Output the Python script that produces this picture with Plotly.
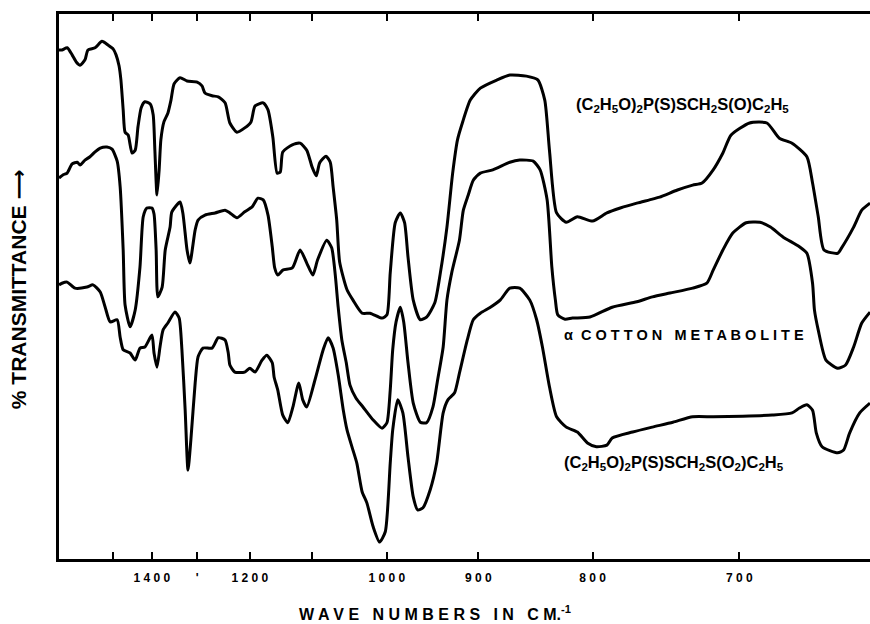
import plotly.graph_objects as go

# ---- data (wave numbers in cm^-1, transmittance in % of chart height) ----
sulfoxide_wn = [1663, 1653, 1636, 1620, 1607, 1595, 1580, 1571, 1550, 1530, 1513, 1499, 1491, 1483, 1478,
                1472, 1467, 1459, 1449, 1441, 1434, 1426, 1417, 1404, 1397, 1393, 1388, 1383, 1379, 1372,
                1363, 1356, 1349, 1336, 1321, 1300, 1290, 1284, 1270, 1258, 1245, 1236, 1223, 1209, 1198,
                1191, 1177, 1169, 1161, 1154, 1149, 1145, 1130, 1118, 1108, 1100, 1094, 1089, 1080, 1074,
                1070, 1065, 1061, 1051, 1043, 1031, 1021, 1006, 1000, 996, 990, 984, 979, 975, 969, 961,
                954, 945, 939, 932, 926, 921, 916, 908, 898, 882, 870, 855, 845, 839, 835, 829, 821, 812,
                800, 789, 779, 767, 758, 751, 739, 729, 723, 716, 710, 705, 694, 684, 677, 670, 662, 659,
                656, 653, 646, 644, 638, 634, 630]
sulfoxide_t = [93.4, 93.4, 93.8, 92.5, 91.2, 90.6, 91.6, 93.4, 93.8, 95.0, 94.3, 93.6, 92.5, 90.5, 87.9,
               82.4, 78.3, 77.8, 74.5, 75.0, 79.3, 82.8, 83.9, 83.5, 81.5, 75.0, 66.8, 71.4, 76.9, 80.2,
               81.8, 84.2, 87.2, 88.3, 87.7, 87.5, 86.8, 85.5, 85.0, 84.8, 83.7, 80.0, 78.3, 79.1, 80.2,
               83.1, 83.7, 82.4, 77.4, 70.8, 71.0, 74.7, 76.0, 76.3, 75.0, 71.9, 70.3, 72.7, 73.9, 72.8,
               68.3, 62.2, 54.5, 49.4, 47.5, 45.1, 45.1, 44.2, 44.8, 52.5, 61.7, 63.5, 61.7, 55.4, 47.5, 43.9,
               44.4, 47.0, 52.5, 60.9, 70.8, 76.9, 80.0, 84.2, 86.4, 87.9, 88.8, 88.6, 87.9, 84.2, 75.0, 63.5, 61.8, 62.8,
               62.0, 63.5, 64.4, 65.3, 65.9, 66.4, 67.7, 68.6, 69.0, 71.4, 74.5, 77.8, 80.0, 80.0, 77.2, 76.3, 73.8, 69.0,
               62.8, 56.7, 56.1, 57.1, 60.9, 64.0, 65.3]

metabolite_wn = [1663, 1649, 1636, 1620, 1604, 1595, 1580, 1565, 1550, 1535, 1516, 1502, 1488, 1480, 1472,
                 1467, 1454, 1441, 1429, 1421, 1412, 1400, 1395, 1390, 1386, 1376, 1369, 1358, 1354, 1336,
                 1330, 1321, 1315, 1304, 1298, 1284, 1264, 1245, 1236, 1223, 1209, 1196, 1186, 1177, 1169,
                 1162, 1158, 1153, 1145, 1130, 1118, 1108, 1099, 1092, 1079, 1072, 1067, 1063, 1058, 1052,
                 1047, 1039, 1030, 1017, 1006, 1000, 996, 993, 989, 984, 980, 975, 969, 961, 954, 947, 942,
                 936, 932, 927, 919, 915, 910, 905, 898, 886, 870, 861, 849, 843, 837, 833, 830, 828, 822,
                 816, 802, 785, 767, 756, 744, 729, 720, 716, 710, 704, 696, 688, 682, 675, 666, 662, 659,
                 658, 656, 652, 646, 642, 638, 634, 630]
metabolite_t = [69.9, 70.5, 70.8, 72.5, 72.8, 72.3, 73.2, 73.8, 74.7, 75.4, 75.6, 75.2, 73.0, 68.3, 56.7,
                46.6, 42.6, 45.7, 53.6, 62.8, 64.4, 64.4, 63.3, 56.7, 48.1, 49.9, 56.7, 60.9, 63.7, 65.5,
                63.5, 56.7, 54.3, 60.4, 62.2, 63.1, 63.5, 64.0, 63.5, 62.6, 63.7, 64.6, 66.2, 65.9, 63.1,
                57.3, 53.4, 52.1, 53.0, 53.4, 56.7, 54.3, 52.1, 54.9, 58.5, 57.1, 52.1, 46.2, 40.2, 36.0,
                31.9, 29.5, 27.9, 25.5, 24.0, 25.0, 31.0, 38.4, 43.5, 46.2, 43.5, 36.0, 28.6, 25.1, 25.0, 27.9, 32.8,
                38.9, 47.5, 52.5, 58.5, 64.0, 66.8, 69.5, 70.8, 71.4, 72.8, 73.2, 73.0, 71.4, 65.9, 53.6, 47.5, 44.8, 44.0,
                44.2, 44.4, 46.2, 47.2, 48.1, 48.8, 49.7, 50.6, 53.0, 56.7, 59.8, 61.7, 61.8, 60.9, 59.1, 57.3, 56.1, 50.6,
                45.7, 42.0, 36.5, 35.0, 35.6, 38.9, 43.3, 45.3]

sulfone_wn = [1663, 1653, 1636, 1611, 1574, 1556, 1535, 1521, 1507, 1488, 1480, 1472, 1454, 1441, 1429,
              1417, 1400, 1395, 1388, 1381, 1374, 1363, 1347, 1338, 1332, 1325, 1319, 1313, 1304, 1298,
              1288, 1270, 1258, 1245, 1239, 1236, 1227, 1209, 1200, 1191, 1179, 1171, 1162, 1159, 1153,
              1145, 1137, 1129, 1120, 1114, 1108, 1096, 1084, 1077, 1070, 1063, 1056, 1051, 1044, 1038,
              1031, 1025, 1017, 1009, 1002, 996, 993, 987, 981, 975, 969, 964, 958, 950, 943, 936, 931,
              924, 919, 911, 905, 898, 889, 879, 870, 861, 852, 846, 841, 835, 829, 821, 812, 804, 797,
              789, 785, 770, 756, 742, 729, 716, 698, 681, 670, 666, 662, 659, 657, 654, 646, 643, 640,
              635, 630]
sulfone_t = [50.3, 50.6, 50.8, 49.7, 49.9, 50.3, 49.0, 46.2, 43.5, 43.9, 40.7, 38.4, 37.8, 36.5, 38.7,
             38.9, 41.1, 37.8, 35.2, 38.9, 42.0, 43.3, 45.3, 44.2, 38.4, 27.3, 16.3, 21.8, 32.3, 37.1,
             38.7, 38.7, 40.6, 40.2, 37.8, 35.6, 34.3, 34.3, 35.0, 34.3, 36.5, 37.4, 36.0, 33.4, 31.0,
             26.4, 25.0, 27.9, 32.3, 29.2, 27.9, 32.8, 38.4, 40.6, 38.7, 33.8, 27.3, 23.7, 20.4, 17.6,
             12.3, 10.3, 5.9, 3.1, 5.0, 17.6, 23.7, 29.2, 26.8, 18.7, 11.4, 9.0, 9.4, 12.7, 17.6, 26.8, 29.2,
             30.5, 34.1, 40.2, 43.9, 45.1, 46.1, 47.5, 49.7, 49.7, 47.5, 43.9, 38.9, 31.6, 26.1, 24.2, 23.3, 21.3, 20.6,
             20.9, 22.2, 23.3, 24.2, 25.1, 26.1, 26.1, 26.2, 26.4, 26.8, 27.7, 28.3, 27.3, 23.1, 20.6, 19.5, 20.0, 23.1,
             26.8, 28.6]

tick_wn = [1500, 1400, 1300, 1200, 1100, 1000, 900, 800, 700]
tick_text = ["", "1 4 0 0", "'", "1 2 0 0", "", "1 0 0 0", "9 0 0", "8 0 0", "7 0 0"]
x_range_wn = [1663, 630]

label_sulfoxide = "(C<sub>2</sub>H<sub>5</sub>O)<sub>2</sub>P(S)SCH<sub>2</sub>S(O)C<sub>2</sub>H<sub>5</sub>"
label_metabolite = "α  C O T T O N   M E T A B O L I T E"
label_sulfone = "(C<sub>2</sub>H<sub>5</sub>O)<sub>2</sub>P(S)SCH<sub>2</sub>S(O<sub>2</sub>)C<sub>2</sub>H<sub>5</sub>"
x_title = "W A V E   N U M B E R S   I N   C M.<sup>-1</sup>"
y_title = "% TRANSMITTANCE ⟶"

# The chart's abscissa is linear in wavelength (µm); convert wave numbers.
def to_um(v):
    return [1e4 / w for w in v]

FONT = "Liberation Sans, Arial, DejaVu Sans, sans-serif"

fig = go.Figure()
for wn, t in [(sulfoxide_wn, sulfoxide_t), (metabolite_wn, metabolite_t), (sulfone_wn, sulfone_t)]:
    fig.add_trace(go.Scatter(x=to_um(wn), y=t, mode="lines",
                             line=dict(color="black", width=3, shape="spline", smoothing=0.6),
                             showlegend=False, hoverinfo="skip"))

fig.update_layout(
    width=870, height=624,
    margin=dict(l=59, r=0, t=14, b=65),
    paper_bgcolor="white", plot_bgcolor="white",
    font=dict(family=FONT, color="black"),
)
fig.update_xaxes(range=to_um(x_range_wn), showgrid=False, zeroline=False,
                 showline=True, linecolor="black", linewidth=3, mirror="ticks",
                 ticks="inside", ticklen=7, tickwidth=2, tickcolor="black",
                 tickvals=to_um(tick_wn), ticktext=tick_text,
                 tickfont=dict(size=12, family=FONT, weight="bold"),
                 ticklabelstandoff=6)
fig.update_yaxes(range=[0, 100], showgrid=False, zeroline=False,
                 showline=True, linecolor="black", linewidth=3,
                 showticklabels=False, ticks="")

ann = [
    dict(text=label_sulfoxide, x=0.769, y=0.833, font=dict(size=16.5, weight="bold")),
    dict(text=label_metabolite, x=0.771, y=0.411, font=dict(size=14.5, weight="bold")),
    dict(text=label_sulfone, x=0.758, y=0.176, font=dict(size=16.5, weight="bold")),
    dict(text=x_title, x=0.4636, y=-0.099, font=dict(size=16, weight="bold")),
    dict(text=y_title, x=-0.0506, y=0.495, textangle=-90, font=dict(size=21, weight="bold")),
]
for a in ann:
    a.update(xref="paper", yref="paper", showarrow=False, xanchor="center", yanchor="middle")
    a["font"]["family"] = FONT
    a["font"]["color"] = "black"
fig.update_layout(annotations=ann)

fig.write_html("out.html")
